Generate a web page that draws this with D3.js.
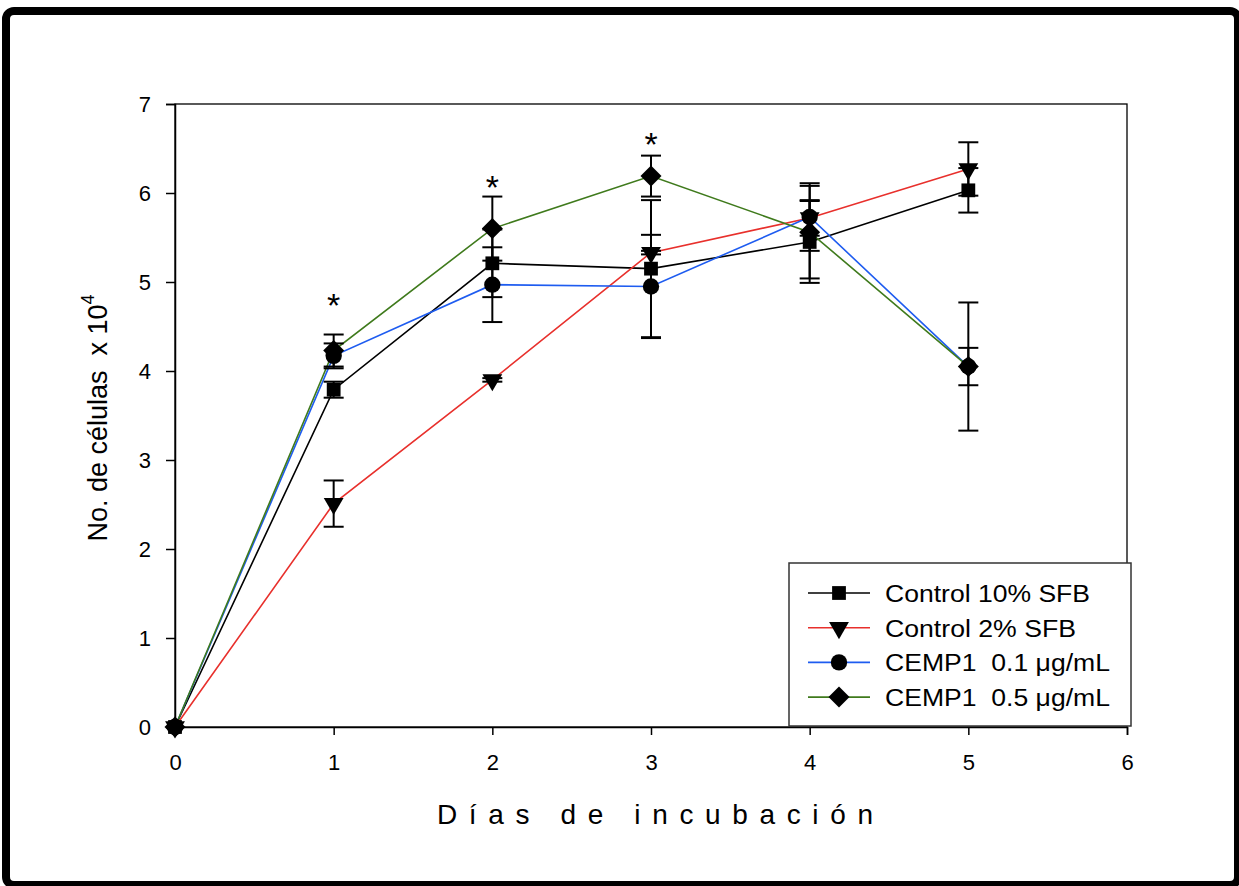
<!DOCTYPE html>
<html><head><meta charset="utf-8">
<script src="https://cdn.jsdelivr.net/npm/d3@7"></script>
<style>body{margin:0;background:#fff;} svg{display:block;} text{font-family:"Liberation Sans",Arial,sans-serif;white-space:pre;}</style>
</head><body>
<svg id="c" width="1239" height="886"></svg>
<script>
const days = [0, 1, 2, 3, 4, 5];
const xTicks = [0, 1, 2, 3, 4, 5, 6];
const yTicks = [0, 1, 2, 3, 4, 5, 6, 7];
const seriesNames = ["Control 10% SFB", "Control 2% SFB", "CEMP1  0.1 \u03bcg/mL", "CEMP1  0.5 \u03bcg/mL"];
const ctrl10 = [0, 3.79, 5.21, 5.15, 5.45, 6.03];
const ctrl10Err = [0, 0.09, 0.38, 0.77, 0.46, 0.25];
const ctrl2 = [0, 2.51, 3.90, 5.33, 5.72, 6.27];
const ctrl2Err = [0, 0.26, 0.02, 0.02, 0.2, 0.3];
const cemp01 = [0, 4.17, 4.97, 4.95, 5.73, 4.05];
const cemp01Err = [0, 0.14, 0.42, 0.58, 0.38, 0.21];
const cemp05 = [0, 4.23, 5.60, 6.19, 5.56, 4.05];
const cemp05Err = [0, 0.18, 0.36, 0.23, 0.52, 0.72];
const starDays = [1, 2, 3];
const starValues = [4.82, 6.15, 6.63];
const colors = ["#000000", "#e8302c", "#1e5cf0", "#3f7a1c"];
const symbols = [d3.symbolSquare, d3.symbolTriangle, d3.symbolCircle, d3.symbolSquare];
const symSizes = [190, 170, 210, 220];
const rotations = [0, 180, 0, 45];

const svg = d3.select("#c");
svg.append("rect").attr("x", 6).attr("y", 11).attr("width", 1232).attr("height", 874)
  .attr("rx", 8).attr("fill", "none").attr("stroke", "#000").attr("stroke-width", 8);

const x = d3.scaleLinear().domain([0, 6]).range([175, 1127]);
const y = d3.scaleLinear().domain([0, 7]).range([727, 104]);

svg.append("rect").attr("x", x(0)).attr("y", y(7)).attr("width", x(6) - x(0)).attr("height", y(0) - y(7))
  .attr("fill", "none").attr("stroke", "#000").attr("stroke-width", 1.3);

const xAxis = svg.append("g").attr("transform", `translate(0,${y(0)})`)
  .call(d3.axisBottom(x).tickValues(xTicks).tickFormat(d3.format("d")).tickSize(8).tickPadding(19));
const yAxis = svg.append("g").attr("transform", `translate(${x(0)},0)`)
  .call(d3.axisLeft(y).tickValues(yTicks).tickFormat(d3.format("d")).tickSize(9).tickPadding(15));
[xAxis, yAxis].forEach(g => {
  g.select(".domain").attr("stroke-width", 1.5);
  g.selectAll(".tick line").attr("stroke-width", 1.5);
  g.selectAll(".tick text").attr("font-size", 22).attr("font-family", "Liberation Sans, Arial, sans-serif").attr("fill", "#000");
});

const all = [
  {v: ctrl10, e: ctrl10Err}, {v: ctrl2, e: ctrl2Err}, {v: cemp01, e: cemp01Err}, {v: cemp05, e: cemp05Err}
];
const line = d3.line().x((d, i) => x(days[i])).y(d => y(d));

all.forEach((s, k) => {
  svg.append("path").datum(s.v).attr("d", line).attr("fill", "none").attr("stroke", colors[k]).attr("stroke-width", 1.6);
});
all.forEach((s, k) => {
  const g = svg.append("g");
  days.forEach((d, i) => {
    if (s.e[i] <= 0) return;
    const cx = x(d), y1 = y(s.v[i] + s.e[i]), y2 = y(s.v[i] - s.e[i]);
    g.append("line").attr("x1", cx).attr("x2", cx).attr("y1", y1).attr("y2", y2).attr("stroke", "#000").attr("stroke-width", 2);
    [y1, y2].forEach(yy => g.append("line").attr("x1", cx - 10).attr("x2", cx + 10).attr("y1", yy).attr("y2", yy).attr("stroke", "#000").attr("stroke-width", 2));
  });
});
all.forEach((s, k) => {
  const sym = d3.symbol().type(symbols[k]).size(symSizes[k]);
  svg.append("g").selectAll("path").data(s.v).join("path")
    .attr("d", sym)
    .attr("transform", (d, i) => `translate(${x(days[i])},${y(d)}) rotate(${rotations[k]})`)
    .attr("fill", "#000");
});

const starFs = 34;
svg.append("g").selectAll("text").data(starDays).join("text")
  .attr("x", d => x(d)).attr("y", (d, i) => y(starValues[i]) + 0.57 * starFs)
  .attr("text-anchor", "middle").attr("font-size", starFs).text("*");

svg.append("text").attr("x", 437).attr("y", 824)
  .attr("font-size", 28).attr("textLength", 436).attr("lengthAdjust", "spacing").text("D\u00edas de incubaci\u00f3n");
const yt = svg.append("text").attr("transform", "translate(107,418) rotate(-90)").attr("text-anchor", "middle").attr("font-size", 27);
yt.append("tspan").text("No. de c\u00e9lulas  x 10");
yt.append("tspan").attr("dy", -13).attr("font-size", 18).text("4");

const lg = svg.append("g");
lg.append("rect").attr("x", 789).attr("y", 563).attr("width", 342).attr("height", 163)
  .attr("fill", "#fff").attr("stroke", "#333").attr("stroke-width", 1.5);
const legendWidths = [205, 191, 225, 225];
seriesNames.forEach((n, k) => {
  const ly = 593 + k * 34.7;
  lg.append("line").attr("x1", 808).attr("x2", 870).attr("y1", ly).attr("y2", ly).attr("stroke", colors[k]).attr("stroke-width", 1.6);
  lg.append("path").attr("d", d3.symbol().type(symbols[k]).size(symSizes[k])()).attr("transform", `translate(839,${ly}) rotate(${rotations[k]})`).attr("fill", "#000");
  lg.append("text").attr("x", 885).attr("y", ly + 9).attr("font-size", 23)
    .attr("textLength", legendWidths[k]).attr("lengthAdjust", "spacingAndGlyphs").text(n);
});
</script>
</body></html>
